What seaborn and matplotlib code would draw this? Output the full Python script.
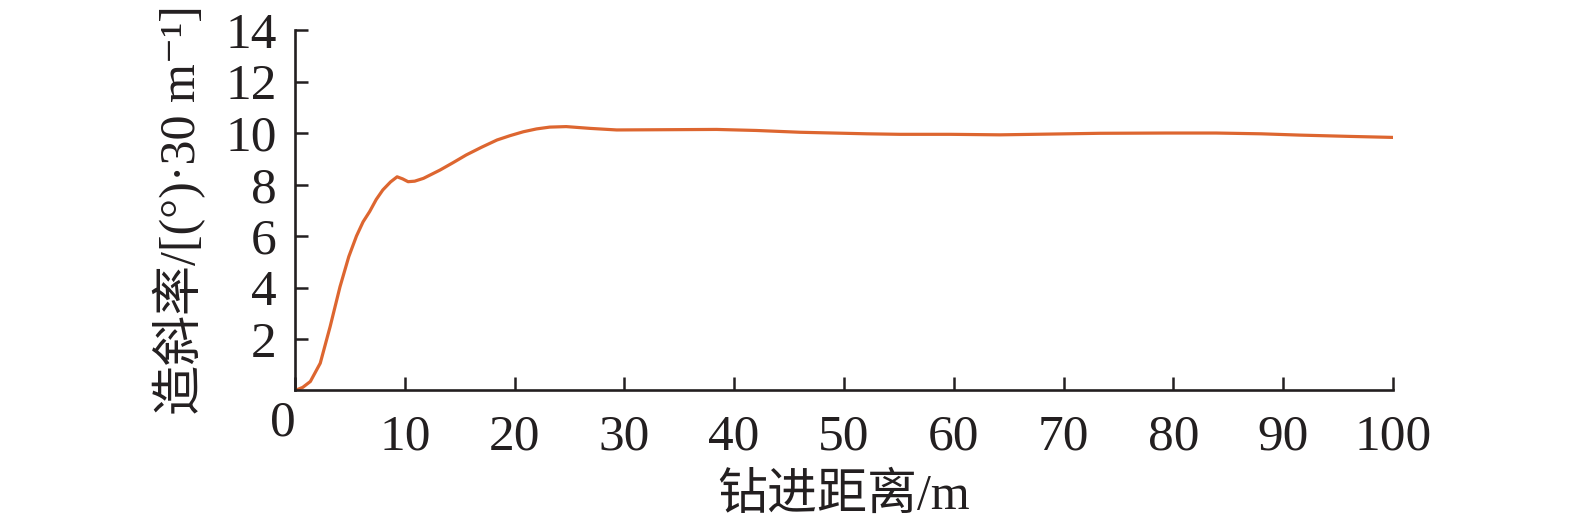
import numpy as np
import pandas as pd
import matplotlib
matplotlib.use("Agg")
import matplotlib.pyplot as plt
import matplotlib.transforms as mtransforms
import seaborn as sns

# values
distance = [0, 0.7, 1.4, 2.3, 3.2, 4.1, 4.9, 5.6, 6.2, 6.8, 7.4, 8.0, 8.7, 9.3, 9.8,
            10.3, 10.9, 11.7, 13.2, 14.4, 15.6, 17.0, 18.4, 19.6, 20.8, 22.0, 23.2, 24.7,
            26.9, 29.3, 34.0, 38.4, 42.0, 46.0, 52.1, 55.1, 59.7, 64.2, 68.8, 73.3,
            79.4, 83.9, 88.0, 91.5, 96.0, 100]
build_rate = [0, 0.12, 0.35, 1.06, 2.48, 4.03, 5.2, 6.0, 6.55, 6.95, 7.42, 7.79, 8.1, 8.3, 8.22,
              8.11, 8.13, 8.24, 8.56, 8.85, 9.15, 9.45, 9.73, 9.9, 10.05, 10.16, 10.23, 10.25,
              10.18, 10.12, 10.13, 10.14, 10.1, 10.03, 9.97, 9.95, 9.95, 9.93, 9.96, 9.99,
              10.0, 10.0, 9.97, 9.92, 9.87, 9.83]

x_ticks = [0, 10, 20, 30, 40, 50, 60, 70, 80, 90, 100]
y_ticks = [2, 4, 6, 8, 10, 12, 14]

df = pd.DataFrame({"distance": distance, "rate": build_rate})

sns.set_theme(style="ticks")
plt.rcParams['font.family'] = ['Liberation Serif', 'Noto Sans CJK SC', 'DejaVu Serif']

fig = plt.figure(figsize=(15.75, 5.32), dpi=100)
ax = fig.add_axes([0.1873, 0.266, 0.6971, 0.6775])

sns.lineplot(data=df, x="distance", y="rate", ax=ax, color="#DD6630", linewidth=2.3)

ax.set_xlim(0, 100)
ax.set_ylim(0, 14)
ax.set_xticks(x_ticks)
ax.set_yticks(y_ticks)
ax.tick_params(direction='in', length=9.5, width=1.8, labelsize=37, colors='#231f20',
               labelcolor='#231f20')
ax.tick_params(axis='x', pad=17)
ax.tick_params(axis='y', pad=13)

# the corner "0" sits up and left of the other x labels
zero = ax.get_xticklabels()[0]
zero.set_transform(zero.get_transform() + mtransforms.ScaledTranslation(-0.12, 0.14, fig.dpi_scale_trans))

for s in ['top', 'right']:
    ax.spines[s].set_visible(False)
for s in ['left', 'bottom']:
    ax.spines[s].set_linewidth(1.9)
    ax.spines[s].set_color('#231f20')

ax.set_xlabel('钻进距离/m', fontsize=36, color='#231f20', labelpad=9)
ax.set_ylabel('造斜率/[(°)·30 m⁻¹]', fontsize=36, color='#231f20', labelpad=14)

fig.savefig("out.png", dpi=100)
